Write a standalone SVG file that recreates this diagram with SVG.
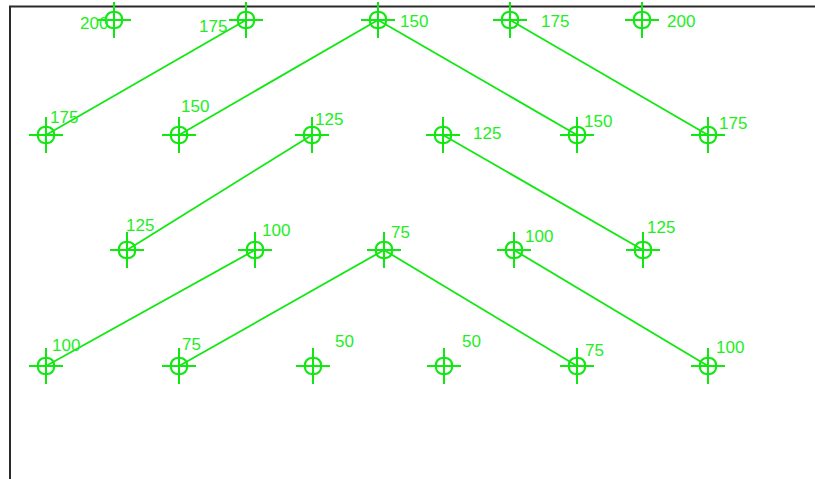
<svg xmlns="http://www.w3.org/2000/svg" width="815" height="479" viewBox="0 0 815 479">
<defs>
<style>
.c{fill:none;stroke:#11e811;stroke-width:2.2}
.x{stroke:#11e811;stroke-width:2}
.e{stroke:#11e811;stroke-width:1.8;fill:none}
.t{font-family:"Liberation Sans",Arial,sans-serif;font-size:17px;fill:#22ee22}
</style>
<g id="mk">
<line class="x" x1="-17" y1="0" x2="17" y2="0"/>
<line class="x" x1="0" y1="-18" x2="0" y2="18"/>
<rect class="c" x="-8" y="-8" width="16" height="16" rx="6.5"/>
</g>
</defs>
<rect x="0" y="0" width="815" height="479" fill="#ffffff"/>
<path d="M10 479 V6.5 H815" fill="none" stroke="#2a2a2a" stroke-width="2"/>
<g id="connectors">
<line class="e" x1="246" y1="20" x2="46" y2="135"/>
<line class="e" x1="378" y1="20" x2="179" y2="135"/>
<line class="e" x1="378" y1="20" x2="577" y2="135"/>
<line class="e" x1="510" y1="20" x2="708" y2="135"/>
<line class="e" x1="312" y1="135" x2="127" y2="250"/>
<line class="e" x1="443" y1="135" x2="643" y2="250"/>
<line class="e" x1="255" y1="250" x2="46" y2="366"/>
<line class="e" x1="384" y1="250" x2="179" y2="366"/>
<line class="e" x1="384" y1="250" x2="577" y2="366"/>
<line class="e" x1="514" y1="250" x2="708" y2="366"/>
</g>
<g id="n1"><use href="#mk" x="114" y="20"/><text class="t" x="80" y="29">200</text></g>
<g id="n2"><use href="#mk" x="246" y="20"/><text class="t" x="199" y="32">175</text></g>
<g id="n3"><use href="#mk" x="378" y="20"/><text class="t" x="400" y="27">150</text></g>
<g id="n4"><use href="#mk" x="510" y="20"/><text class="t" x="541" y="27">175</text></g>
<g id="n5"><use href="#mk" x="642" y="20"/><text class="t" x="667" y="27">200</text></g>
<g id="n6"><use href="#mk" x="46" y="135"/><text class="t" x="50" y="123">175</text></g>
<g id="n7"><use href="#mk" x="179" y="135"/><text class="t" x="181" y="112">150</text></g>
<g id="n8"><use href="#mk" x="312" y="135"/><text class="t" x="315" y="125">125</text></g>
<g id="n9"><use href="#mk" x="443" y="135"/><text class="t" x="473" y="139">125</text></g>
<g id="n10"><use href="#mk" x="577" y="135"/><text class="t" x="584" y="127">150</text></g>
<g id="n11"><use href="#mk" x="708" y="135"/><text class="t" x="719" y="129">175</text></g>
<g id="n12"><use href="#mk" x="127" y="250"/><text class="t" x="126" y="231">125</text></g>
<g id="n13"><use href="#mk" x="255" y="250"/><text class="t" x="262" y="236">100</text></g>
<g id="n14"><use href="#mk" x="384" y="250"/><text class="t" x="391" y="238">75</text></g>
<g id="n15"><use href="#mk" x="514" y="250"/><text class="t" x="525" y="242">100</text></g>
<g id="n16"><use href="#mk" x="643" y="250"/><text class="t" x="647" y="233">125</text></g>
<g id="n17"><use href="#mk" x="46" y="366"/><text class="t" x="52" y="351">100</text></g>
<g id="n18"><use href="#mk" x="179" y="366"/><text class="t" x="182" y="350">75</text></g>
<g id="n19"><use href="#mk" x="313" y="366"/><text class="t" x="335" y="347">50</text></g>
<g id="n20"><use href="#mk" x="444" y="366"/><text class="t" x="462" y="347">50</text></g>
<g id="n21"><use href="#mk" x="577" y="366"/><text class="t" x="585" y="356">75</text></g>
<g id="n22"><use href="#mk" x="708" y="366"/><text class="t" x="716" y="353">100</text></g>
</svg>
